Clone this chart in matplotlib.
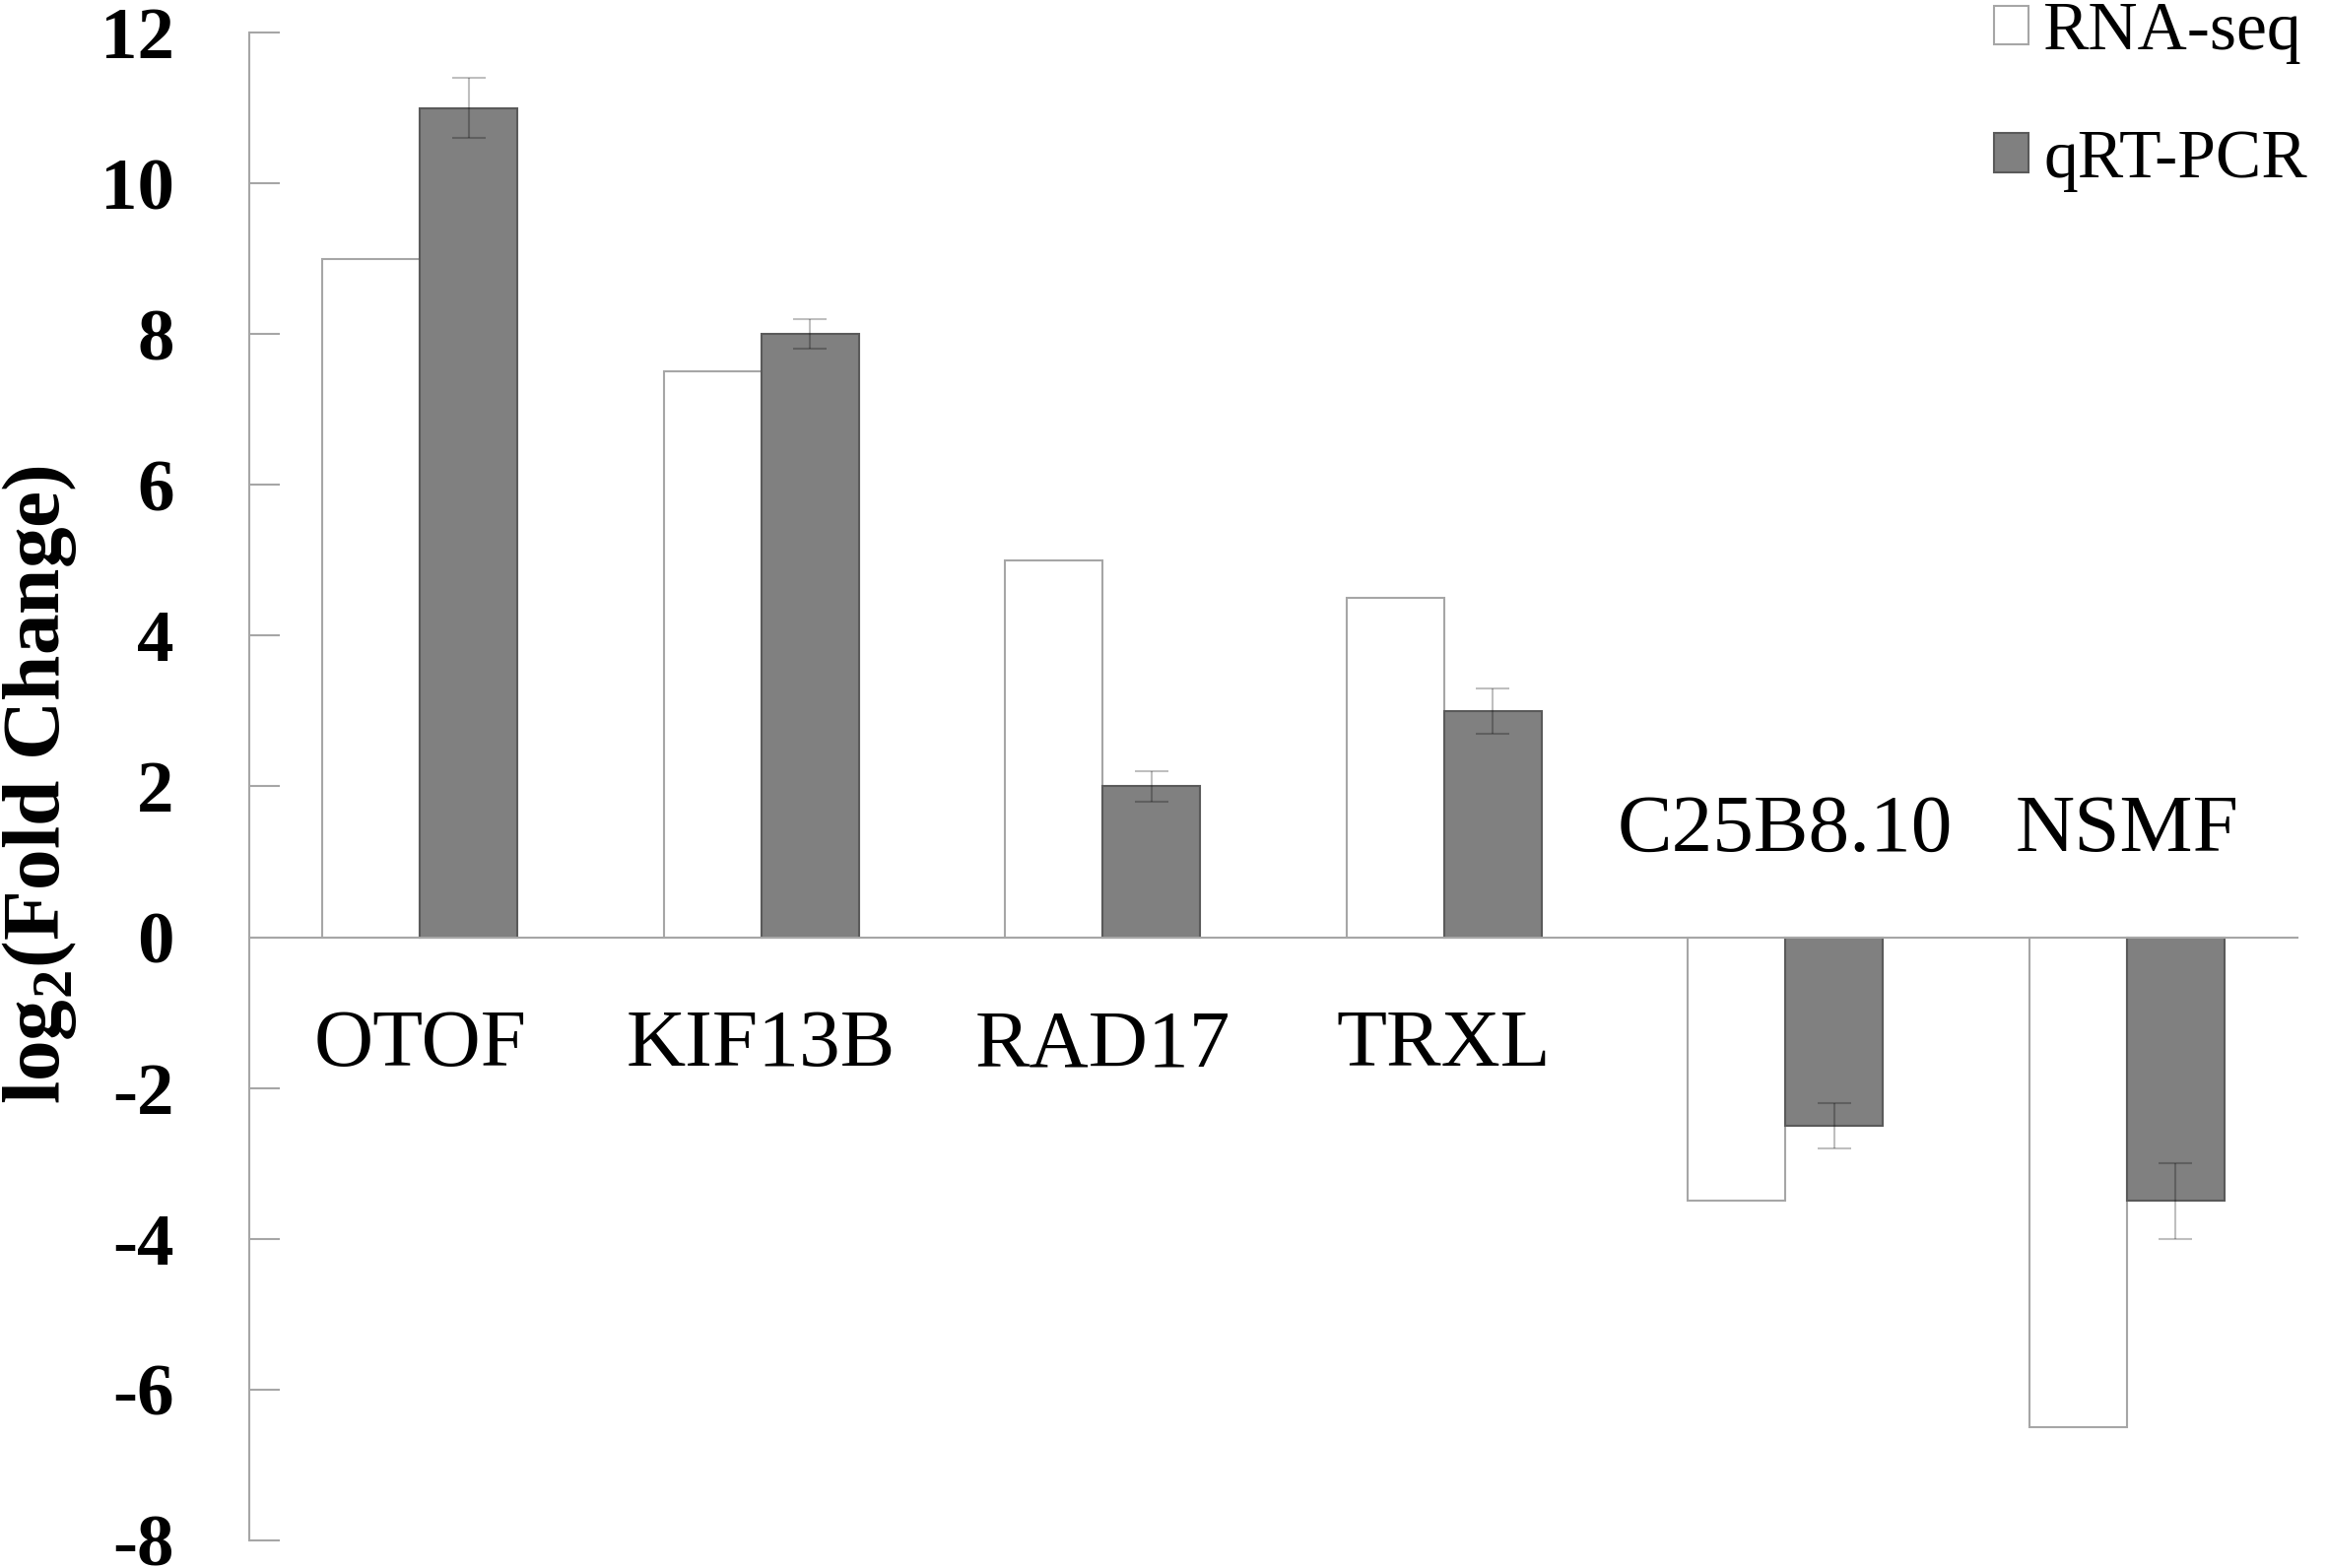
import numpy as np
import matplotlib
matplotlib.use('Agg')
import matplotlib.pyplot as plt

genes = ['OTOF', 'KIF13B', 'RAD17', 'TRXL', 'C25B8.10', 'NSMF']
rna_seq = [9.0, 7.5, 5.0, 4.5, -3.5, -6.5]
qrt_pcr = [11.0, 8.0, 2.0, 3.0, -2.5, -3.5]
qrt_err = [0.4, 0.2, 0.2, 0.3, 0.3, 0.5]
yticks = [-8, -6, -4, -2, 0, 2, 4, 6, 8, 10, 12]

plt.rcParams['font.family'] = ['Liberation Serif', 'DejaVu Serif']

fig = plt.figure(figsize=(23.62, 15.92), dpi=100)
ax = fig.add_axes([0.1071, 0.0176, 0.8802, 0.9617])

x = np.arange(len(genes))
w = 0.286
ax.bar(x - w / 2, rna_seq, w, color='white', edgecolor='#a6a6a6', linewidth=1.5,
       label='RNA-seq', zorder=2)
ax.bar(x + w / 2, qrt_pcr, w, color='#808080', edgecolor='#5a5a5a', linewidth=1.5,
       label='qRT-PCR', zorder=2)
ax.errorbar(x + w / 2, qrt_pcr, yerr=qrt_err, fmt='none', ecolor='black', alpha=0.25,
            elinewidth=1.5, capsize=12, capthick=1.5, zorder=3)

ax.set_xlim(-0.5, 5.5)
ax.set_ylim(-8, 12)
ax.set_yticks(yticks)
ax.set_yticklabels([str(t) for t in yticks], fontsize=54, fontweight='bold')
ax.tick_params(axis='y', direction='in', length=22, width=1.5, color='#a6a6a6', pad=55)
ax.set_xticks([])

for s in ['top', 'right']:
    ax.spines[s].set_visible(False)
ax.spines['left'].set_color('#a6a6a6')
ax.spines['left'].set_linewidth(1.5)
ax.spines['bottom'].set_position(('data', 0))
ax.spines['bottom'].set_color('#a6a6a6')
ax.spines['bottom'].set_linewidth(1.5)

for xi, g, v in zip(x, genes, rna_seq):
    ty = -1.45 if v > 0 else 1.4
    ax.text(xi, ty, g, ha='center', va='center', fontsize=60)

fig.text(40 / 2362, 0.5, r'log$_\mathregular{2}$(Fold Change)', rotation=90,
         ha='center', va='center', fontsize=60, fontweight='bold')

ax.legend(loc='upper left', bbox_to_anchor=(0.857, 0.999), bbox_transform=fig.transFigure,
          frameon=False, fontsize=50, handlelength=0.5, handleheight=0.5,
          handletextpad=0.22, labelspacing=0.95, borderpad=0, borderaxespad=0)

fig.savefig('out.png', dpi=100)
